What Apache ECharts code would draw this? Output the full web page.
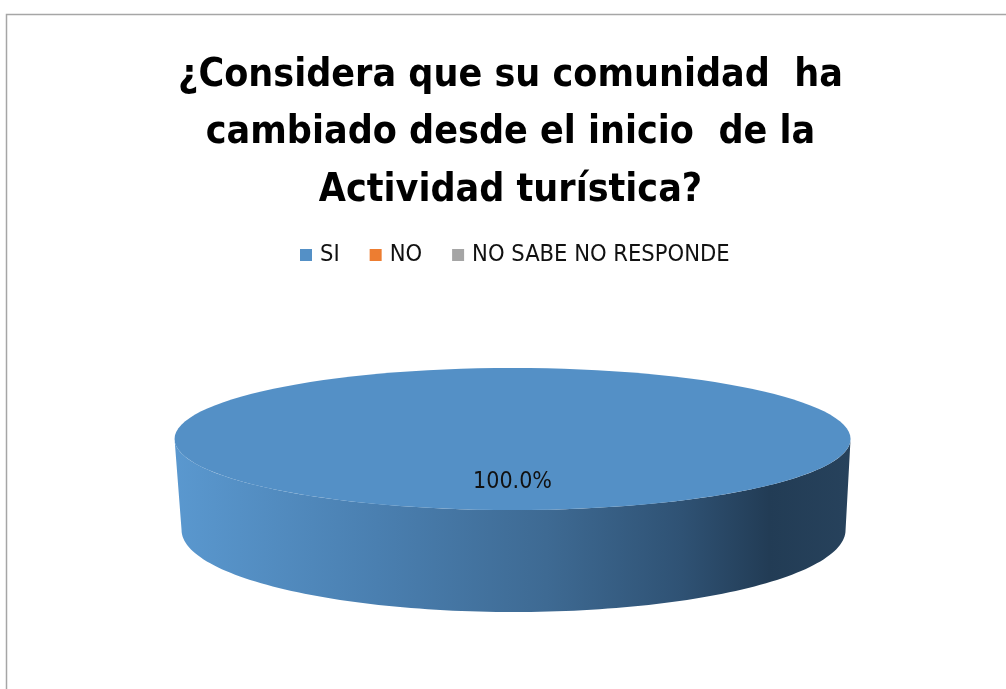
<!DOCTYPE html>
<html>
<head>
<meta charset="utf-8">
<script src="https://cdn.jsdelivr.net/npm/echarts@6/dist/echarts.min.js"></script>
<style>
html,body{margin:0;padding:0;background:#fff;}
#c{width:1006px;height:689px;}
</style>
</head>
<body>
<div id="c"></div>
<script>
const categories = ['SI', 'NO', 'NO SABE NO RESPONDE'];
const values = [100, 0, 0];
const colors = ['#5490C6', '#ED7D31', '#A5A5A5'];
const titleLines = ['¿Considera que su comunidad  ha', 'cambiado desde el inicio  de la', 'Actividad turística?'];

const FONT = '"Liberation Sans Narrow", "DejaVu Sans Condensed", sans-serif';
const chart = echarts.init(document.getElementById('c'));
const total = values.reduce((a, b) => a + b, 0);

function arcPts(cx, cy, rx, ry, a, b, n) {
  const pts = [];
  for (let i = 0; i <= n; i++) {
    const t = a + (b - a) * i / n;
    pts.push([cx + rx * Math.cos(t), cy + ry * Math.sin(t)]);
  }
  return pts;
}

function renderSlice(params, api) {
  const idx = params.seriesIndex;
  const v = values[idx];
  if (!v) return null;
  const W = api.getWidth();
  const cx = W * 0.5095, cy = 439, rx = 338, ry = 71;
  const cxB = cx + 1, cyB = 530, rxB = 332, ryB = 82;
  let before = 0;
  for (let i = 0; i < idx; i++) before += values[i];
  const a0 = -Math.PI / 2 + 2 * Math.PI * before / total;
  const a1 = a0 + 2 * Math.PI * v / total;
  const children = [];
  [[0, Math.PI], [2 * Math.PI, 3 * Math.PI]].forEach(([lo, hi]) => {
    const s = Math.max(a0, lo), e = Math.min(a1, hi);
    if (e > s) {
      const top = arcPts(cx, cy, rx, ry, s, e, 120);
      const bot = arcPts(cxB, cyB, rxB, ryB, e, s, 120);
      children.push({
        type: 'polygon',
        shape: { points: top.concat(bot) },
        style: {
          fill: {
            type: 'linear', x: cx - rx, y: 0, x2: cx + rx, y2: 0, global: true,
            colorStops: [
              { offset: 0, color: '#5A98CF' },
              { offset: 0.3, color: '#4A7FB0' },
              { offset: 0.55, color: '#3E6A93' },
              { offset: 0.75, color: '#2F5274' },
              { offset: 0.88, color: '#223C55' },
              { offset: 1, color: '#27425C' }
            ]
          }
        }
      });
    }
  });
  if (v >= total) {
    children.push({ type: 'ellipse', shape: { cx: cx, cy: cy, rx: rx, ry: ry }, style: { fill: colors[idx] } });
  } else {
    children.push({ type: 'polygon', shape: { points: [[cx, cy]].concat(arcPts(cx, cy, rx, ry, a0, a1, 120)) }, style: { fill: colors[idx] } });
  }
  const mid = (a0 + a1) / 2;
  children.push({
    type: 'text',
    style: {
      x: cx + 0.55 * rx * Math.cos(mid),
      y: cy + 0.6 * ry * Math.sin(mid),
      text: (v / total * 100).toFixed(1) + '%',
      font: '23px ' + FONT,
      fill: '#111', align: 'center', verticalAlign: 'middle'
    }
  });
  return { type: 'group', children: children };
}

const option = {
  backgroundColor: '#fff',
  animation: false,
  legend: {
    data: categories,
    top: 238,
    left: 295,
    icon: 'rect',
    itemWidth: 12, itemHeight: 12, itemGap: 30,
    textStyle: { fontSize: 23.5, color: '#111', fontFamily: FONT, padding: [0, 0, 0, 3] }
  },
  graphic: [{
    type: 'rect', left: 4, top: 12, silent: true,
    shape: { width: 1010, height: 700 },
    style: { fill: 'none', stroke: '#A6A6A6', lineWidth: 1.5 }
  }, {
    type: 'text', x: 510.5, y: 47, silent: true,
    style: {
      text: titleLines.join('\n'),
      font: 'bold 39px ' + FONT,
      lineHeight: 57.5,
      fill: '#000',
      align: 'center',
      verticalAlign: 'top'
    }
  }],
  series: categories.map((name, i) => ({
    type: 'custom',
    name: name,
    coordinateSystem: 'none',
    itemStyle: { color: colors[i] },
    renderItem: renderSlice,
    data: [values[i]]
  }))
};
chart.setOption(option);
</script>
</body>
</html>
